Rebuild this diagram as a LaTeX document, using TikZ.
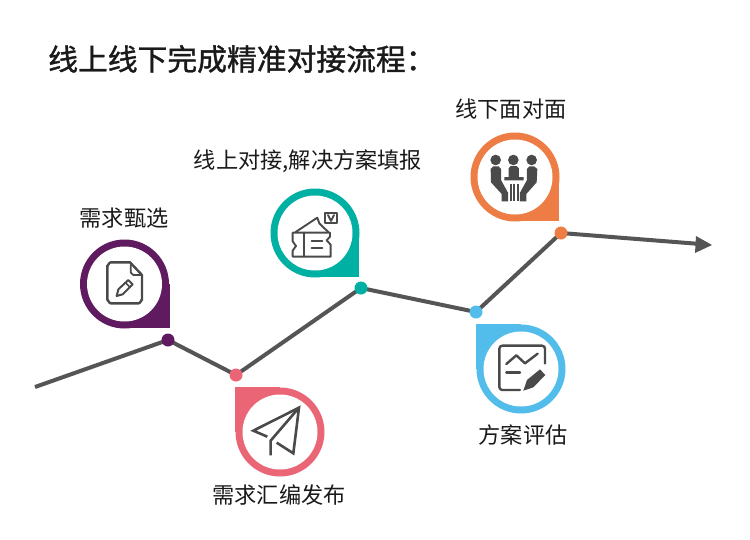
\documentclass[tikz,border=0pt]{standalone}
\usepackage{fontspec}
\setmainfont{Noto Sans CJK SC}
\newfontfamily\titlefont[FakeBold=1.2]{Noto Sans CJK SC}
\definecolor{cpurple}{HTML}{5F1A60}
\definecolor{cteal}{HTML}{00B0A2}
\definecolor{corange}{HTML}{ED7D45}
\definecolor{cpink}{HTML}{EA6576}
\definecolor{cblue}{HTML}{52BCEA}
\definecolor{cgray}{HTML}{555555}
\definecolor{cicon}{HTML}{4A4A4A}
\definecolor{ctext}{HTML}{1A1A1A}
\tikzset{
  pinbody/.style={circle,minimum size=89pt,inner sep=0pt,outer sep=0pt,fill=#1},
  pinhole/.style={circle,minimum size=75pt,inner sep=0pt,outer sep=0pt,fill=white},
  dotnode/.style={circle,minimum size=13pt,inner sep=0pt,outer sep=0pt,fill=#1},
  lab/.style={inner sep=0pt,text=ctext,font=\fontsize{22.2pt}{24pt}\selectfont},
  route/.style={draw=cgray,line width=4pt},
  ico/.style={draw=cicon,line width=2.4pt,line join=round,line cap=round,fill=none},
  icofill/.style={fill=cicon,draw=none},
  zoomed/.style={shift={#1},x=0.3333pt,y=-0.3333pt}
}
\begin{document}
\begin{tikzpicture}[x=1pt,y=-1pt]
\useasboundingbox (0,0) rectangle (750,539);
\fill[white] (0,0) rectangle (750,539);
\node[inner sep=0pt,anchor=west,text=ctext,font=\titlefont\fontsize{29.8pt}{32pt}\selectfont] (title) at (48,59) {线上线下完成精准对接流程：};

% route
\coordinate (start) at (35,387);
\coordinate (tip) at (712,245);
\coordinate (p1) at (168,340);
\coordinate (p2) at (236,375);
\coordinate (p3) at (361,288);
\coordinate (p4) at (476,312);
\coordinate (p5) at (561,233);
\coordinate (neck) at (696.5,243.7);
\draw[route] (start) -- (p1) -- (p2) -- (p3) -- (p4) -- (p5) -- (neck);
\fill[cgray] (tip) -- (696,236) -- (695,253) -- cycle;
\node[dotnode=cpurple] (d1) at (p1) {};
\node[dotnode=cpink] (d2) at (p2) {};
\node[dotnode=cteal] (d3) at (p3) {};
\node[dotnode=cblue] (d4) at (p4) {};
\node[dotnode=corange] (d5) at (p5) {};

% pins
\fill[cpurple] (124.5,284) rectangle (170,328);
\node[pinbody=cpurple] (a) at (124.5,284) {};
\node[pinhole] (ah) at (124.5,284) {};
\fill[cteal] (315,233) rectangle (359,277);
\node[pinbody=cteal] (b) at (315,233) {};
\node[pinhole] (bh) at (315,233) {};
\fill[corange] (515,177) rectangle (559,221);
\node[pinbody=corange] (c) at (515,177) {};
\node[pinhole] (ch) at (515,177) {};
\fill[cpink] (280,432) rectangle (235,387);
\node[pinbody=cpink] (d) at (280,432) {};
\node[pinhole] (dh) at (280,432) {};
\fill[cblue] (521,369) rectangle (476,324);
\node[pinbody=cblue] (e) at (521,369) {};
\node[pinhole] (eh) at (521,369) {};

% icon 1: document and pencil
\begin{scope}[zoomed={(70,230)}]
\draw[ico] (180,97) -- (122,97) to[out=180,in=-90] (112,107) -- (112,210) to[out=90,in=180] (122,220) -- (206,220) to[out=0,in=90] (216,210) -- (216,135) -- cycle;
\draw[ico,line width=1.8pt] (182,105) -- (182,128) to[out=90,in=180] (190,135) -- (214,135);
\draw[ico,line width=2pt] (140,198) -- (145,178) -- (175,150) -- (188,163) -- (158,193) -- cycle;
\draw[ico,line width=1.6pt] (166,158) -- (180,172);
\end{scope}

% icon 2: ticket
\begin{scope}[zoomed={(260,180)},ico/.append style={line width=1.9pt}]
\draw[ico] (98,158) -- (210,158) -- (210,170) -- (200,181) -- (212,194) -- (212,230) -- (98,230) -- (98,212) -- (108,198) -- (98,184) -- cycle;
\draw[ico] (131,158) -- (131,230);
\draw[ico] (155,182) -- (187,182);
\draw[ico] (155,205) -- (187,205);
\draw[ico] (107,156) -- (172,113) -- (178,130) -- (190,142) -- (205,156);
\draw[ico] (195,98) -- (232,98) -- (232,130) -- (195,130) -- cycle;
\draw[ico,line width=1.8pt] (204,105) -- (213,123) -- (222,105);
\end{scope}

% icon 3: people at a table
\begin{scope}[zoomed={(460,125)}]
\fill[icofill] (107,105) circle[radius=5.3pt];
\fill[icofill] (160,105) circle[radius=5.3pt];
\fill[icofill] (215,105) circle[radius=5.3pt];
\fill[icofill] (152,123) -- (170,123) -- (177,130) -- (177,156) -- (191,156) -- (191,166) -- (133,166) -- (133,156) -- (146,156) -- (146,130) -- cycle;
\fill[icofill] (100,124) -- (116,124) -- (123,132) -- (123,165) -- (144,203) -- (144,229) -- (125,229) -- (125,207) -- (93,172) -- (92,132) -- cycle;
\fill[icofill] (208,124) -- (222,124) -- (232,132) -- (230,172) -- (199,207) -- (199,229) -- (180,229) -- (180,203) -- (201,165) -- (201,132) -- cycle;
\fill[icofill] (150,176) rectangle (156,229);
\fill[icofill] (160,176) rectangle (166,229);
\fill[icofill] (170,176) rectangle (176,229);
\end{scope}

% icon 4: paper plane
\begin{scope}[zoomed={(225,370)}]
\draw[ico,line cap=butt,line width=2.6pt,line join=miter] (127,200) -- (85,182) -- (222,113) -- (205,250) -- (155,218);
\draw[ico,line cap=butt,line width=2.6pt,line join=miter] (222,113) -- (137,212) -- (137,256);
\end{scope}

% icon 5: chart and pen
\begin{scope}[zoomed={(465,300)}]
\draw[ico] (240,190) -- (240,146) to[out=90,in=0] (231,137) -- (112,137) to[out=180,in=90] (103,146) -- (103,261) to[out=-90,in=180] (112,270) -- (165,270);
\draw[ico] (124,192) -- (154,166) -- (180,190) -- (218,161);
\draw[ico] (124,217) -- (165,217);
\fill[icofill] (175,272) -- (186,240) -- (225,208) -- (241,225) -- (205,262) -- cycle;
\end{scope}

% labels
\node[lab] (la) at (124,218) {需求甄选};
\node[lab] (lb) at (308,161) {线上对接,解决方案填报};
\node[lab] (lc) at (511,109) {线下面对面};
\node[lab] (ld) at (279,495) {需求汇编发布};
\node[lab] (le) at (523,435) {方案评估};
\end{tikzpicture}
\end{document}
